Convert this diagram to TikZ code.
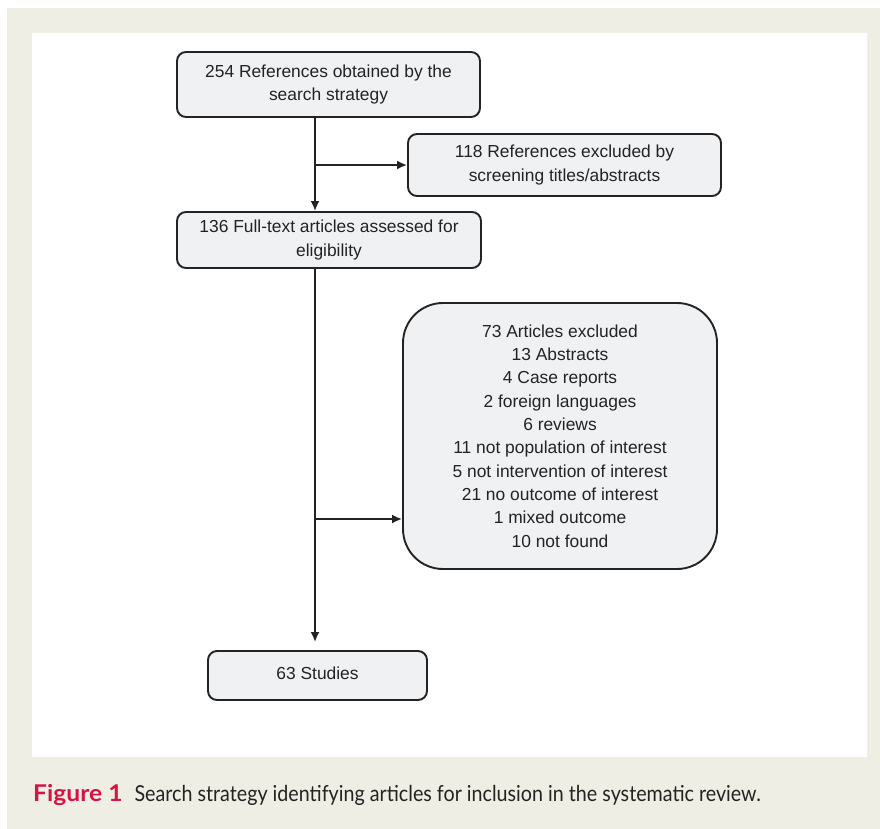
\documentclass[tikz,border=0pt]{standalone}
\usepackage{fontspec}
\setmainfont{Liberation Sans}
\newfontfamily\capfont{Lato}
\usetikzlibrary{arrows.meta}
\definecolor{beige}{RGB}{239,238,228}
\definecolor{boxfill}{RGB}{240,241,243}
\definecolor{ink}{RGB}{35,35,35}
\definecolor{capred}{RGB}{212,20,66}
\tikzset{
  flowbox/.style={draw=ink, line width=1.9pt, fill=boxfill, rounded corners=9pt,
    align=center, inner sep=0pt, text=ink,
    font=\fontsize{17.4pt}{23.3pt}\selectfont},
  conn/.style={draw=ink, line width=1.9pt, -{Latex[length=10pt,width=9pt]}},
}
\begin{document}
\begin{tikzpicture}[x=1pt,y=-1pt]
\useasboundingbox (0,0) rectangle (880,829);
\fill[white] (0,0) rectangle (880,829);
\fill[beige] (7,8) rectangle (880,829);
\fill[white] (32,33) rectangle (867,757);

\node[flowbox, minimum width=303pt, minimum height=65pt] (b1) at (328.5,84.5)
  {254 References obtained by the\\search strategy};
\node[flowbox, minimum width=313pt, minimum height=62pt] (b2) at (564.5,165)
  {118 References excluded by\\screening titles/abstracts};
\node[flowbox, minimum width=304pt, minimum height=56pt] (b3) at (329,240)
  {136 Full-text articles assessed for\\eligibility};
\node[flowbox, rounded corners=40pt, minimum width=314pt, minimum height=266pt] (b4) at (560,436)
  {73 Articles excluded\\13 Abstracts\\4 Case reports\\2 foreign languages\\6 reviews\\11 not population of interest\\5 not intervention of interest\\21 no outcome of interest\\1 mixed outcome\\10 not found};
\node[flowbox, minimum width=219pt, minimum height=49pt] (b5) at (317.5,675.5)
  {\raisebox{4pt}{63 Studies}};

\coordinate (spine) at (315,0);
\coordinate (br4) at (315,519);

\draw[conn] (b1.south -| spine) -- (b3.north -| spine);
\draw[conn] (spine |- b2.west) -- (b2.west);
\draw[conn, shorten >=8pt] (b3.south -| spine) -- (b5.north -| spine);
\draw[conn] (br4) -- (b4.west |- br4);

\node[anchor=base west, inner sep=0pt, font=\capfont\fontsize{22pt}{26pt}\selectfont] (cap) at (33,801)
  {\textcolor{capred}{\scalebox{1.12}[1.05]{\bfseries Figure 1}}\hspace{12pt}\textcolor{ink}{\scalebox{0.895}[1]{Search strategy identifying articles for inclusion in the systematic review.}}};
\end{tikzpicture}
\end{document}
